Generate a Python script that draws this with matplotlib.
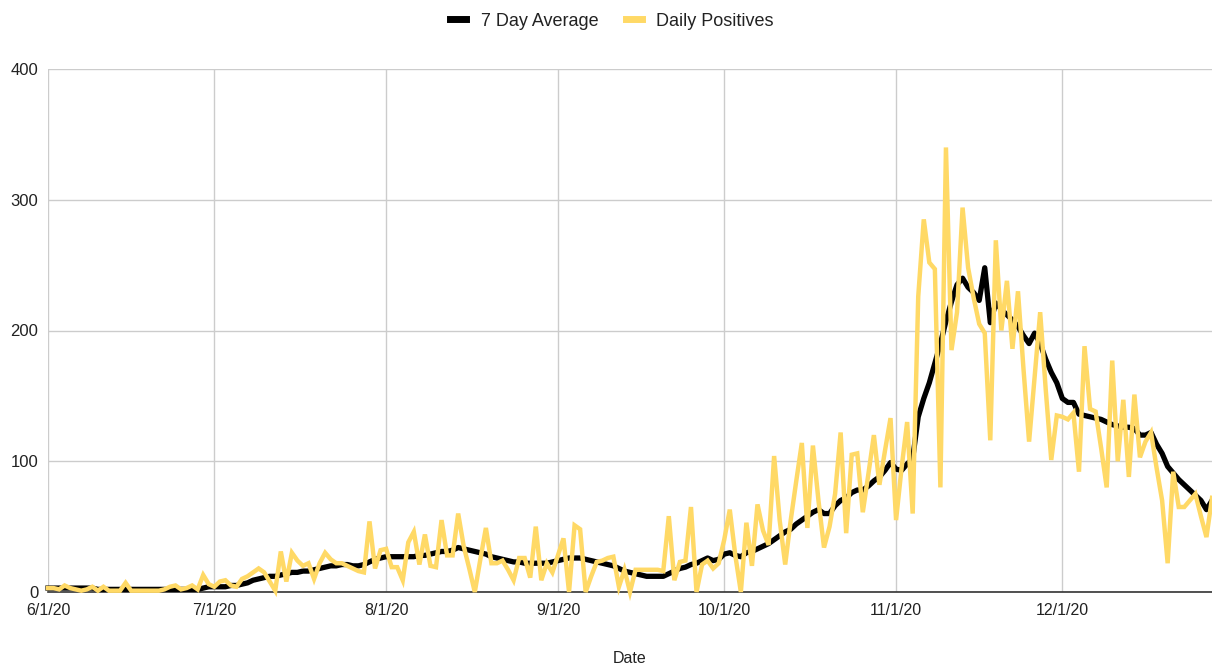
import matplotlib
matplotlib.use("Agg")
import matplotlib.pyplot as plt
import matplotlib.dates as mdates
import pandas as pd
from matplotlib.lines import Line2D

plt.rcParams['font.family'] = ['Liberation Sans', 'DejaVu Sans']

start_date = "2020-06-01"
end_date = "2020-12-28"

daily_positives = [
    # June
    3, 3, 2, 5, 3, 2, 1, 2, 4, 1, 4, 1, 1, 1, 7, 1, 1, 1, 1, 1, 1, 2, 4, 5, 2, 3, 5, 2, 13, 6,
    # July
    4, 8, 9, 5, 4, 10, 12, 15, 18, 15, 8, 1, 31, 8, 30, 24, 20, 22, 10, 22, 30, 25, 22, 22, 20, 18, 16, 15, 54, 18, 32,
    # August
    33, 19, 19, 9, 38, 46, 21, 44, 20, 19, 55, 28, 28, 60, 35, 18, 0, 25, 49, 22, 22, 24, 17, 9, 26, 26, 11, 50, 9, 22, 15,
    # September
    28, 41, 0, 51, 48, 0, 12, 23, 24, 26, 27, 4, 17, 0, 17, 17, 17, 17, 17, 16, 58, 9, 23, 24, 65, 0, 21, 24, 18, 22,
    # October
    40, 63, 28, 0, 53, 20, 67, 47, 36, 104, 55, 21, 55, 85, 114, 49, 112, 70, 34, 50, 75, 122, 45, 105, 106, 61, 90, 120, 82, 108, 133,
    # November
    55, 95, 130, 60, 226, 285, 252, 247, 80, 340, 185, 214, 294, 248, 225, 205, 198, 116, 269, 200, 238, 186, 230, 170, 115, 165, 214, 155, 101, 135,
    # December
    134, 132, 137, 92, 188, 140, 138, 110, 80, 177, 100, 147, 88, 151, 103, 115, 122, 95, 70, 22, 92, 65, 65, 70, 75, 58, 42, 72,
]

seven_day_average = [
    # June
    3, 3, 3, 3, 3, 3, 3, 3, 3, 2, 2, 2, 2, 2, 2, 2, 2, 2, 2, 2, 2, 2, 2, 2, 2, 2, 2, 2, 3, 4,
    # July
    4, 4, 4, 5, 5, 6, 7, 9, 10, 11, 12, 12, 13, 14, 15, 15, 16, 16, 17, 18, 19, 20, 20, 21, 21, 20, 20, 21, 23, 25, 26,
    # August
    27, 27, 27, 27, 27, 27, 28, 28, 29, 30, 31, 31, 32, 34, 33, 32, 31, 30, 29, 27, 26, 25, 24, 23, 23, 22, 22, 22, 22, 22, 23,
    # September
    24, 25, 26, 26, 26, 25, 24, 23, 22, 21, 20, 18, 16, 15, 14, 13, 12, 12, 12, 12, 14, 16, 18, 19, 21, 22, 24, 26, 24, 25,
    # October
    29, 30, 28, 27, 30, 31, 33, 35, 37, 40, 43, 46, 48, 52, 55, 58, 61, 63, 60, 60, 66, 70, 72, 76, 78, 78, 81, 85, 88, 93, 99,
    # November
    94, 93, 98, 102, 134, 148, 160, 175, 190, 207, 222, 235, 240, 233, 229, 223, 248, 206, 221, 216, 212, 208, 203, 196, 190, 198, 190, 178, 168, 160,
    # December
    148, 145, 145, 136, 135, 134, 133, 132, 130, 128, 127, 126, 126, 125, 120, 120, 122, 113, 106, 96, 91, 86, 82, 78, 74, 70, 63, 70,
]

y_ticks = [0, 100, 200, 300, 400]
x_label = "Date"
series_names = ["7 Day Average", "Daily Positives"]

dates = pd.date_range(start_date, end_date, freq="D")

W, H = 1212, 670
fig = plt.figure(figsize=(W / 100, H / 100), dpi=100)
ax = fig.add_axes([48 / W, (H - 592) / H, (1212 - 48) / W, (592 - 69) / H])

black = "#000000"
yellow = "#FFD966"

ax.plot(dates, seven_day_average, color=black, lw=3.8, solid_joinstyle="round", zorder=3, clip_on=False)
ax.plot(dates, daily_positives, color=yellow, lw=3.2, solid_joinstyle="miter", zorder=4, clip_on=False)

ax.set_xlim(dates[0], dates[-1])
ax.set_ylim(0, 400)
ax.set_yticks(y_ticks)
ax.xaxis.set_major_locator(mdates.MonthLocator(bymonthday=1))
ax.xaxis.set_major_formatter(mdates.DateFormatter("%-m/%-d/%y"))

ax.grid(True, color="#cccccc", lw=1.0)
ax.set_axisbelow(True)
for s in ["top", "right", "left"]:
    ax.spines[s].set_visible(False)
ax.spines["bottom"].set_color("#333333")
ax.spines["bottom"].set_linewidth(1.2)
ax.spines["bottom"].set_zorder(2)
ax.tick_params(axis="x", length=0, labelsize=11.5, colors="#222222", pad=8)
ax.tick_params(axis="y", length=0, labelsize=12, colors="#222222", pad=7)

ax.set_xlabel(x_label, fontsize=11.5, color="#222222", labelpad=24)

handles = [Line2D([0], [0], color=black, lw=5), Line2D([0], [0], color=yellow, lw=5)]
fig.legend(handles, series_names, loc="center", bbox_to_anchor=(612 / W, 1 - 21 / H), ncol=2,
           frameon=False, fontsize=13, handlelength=0.9, handletextpad=0.8, columnspacing=1.5,
           labelcolor="#222222")

fig.savefig("out.png", dpi=100)
